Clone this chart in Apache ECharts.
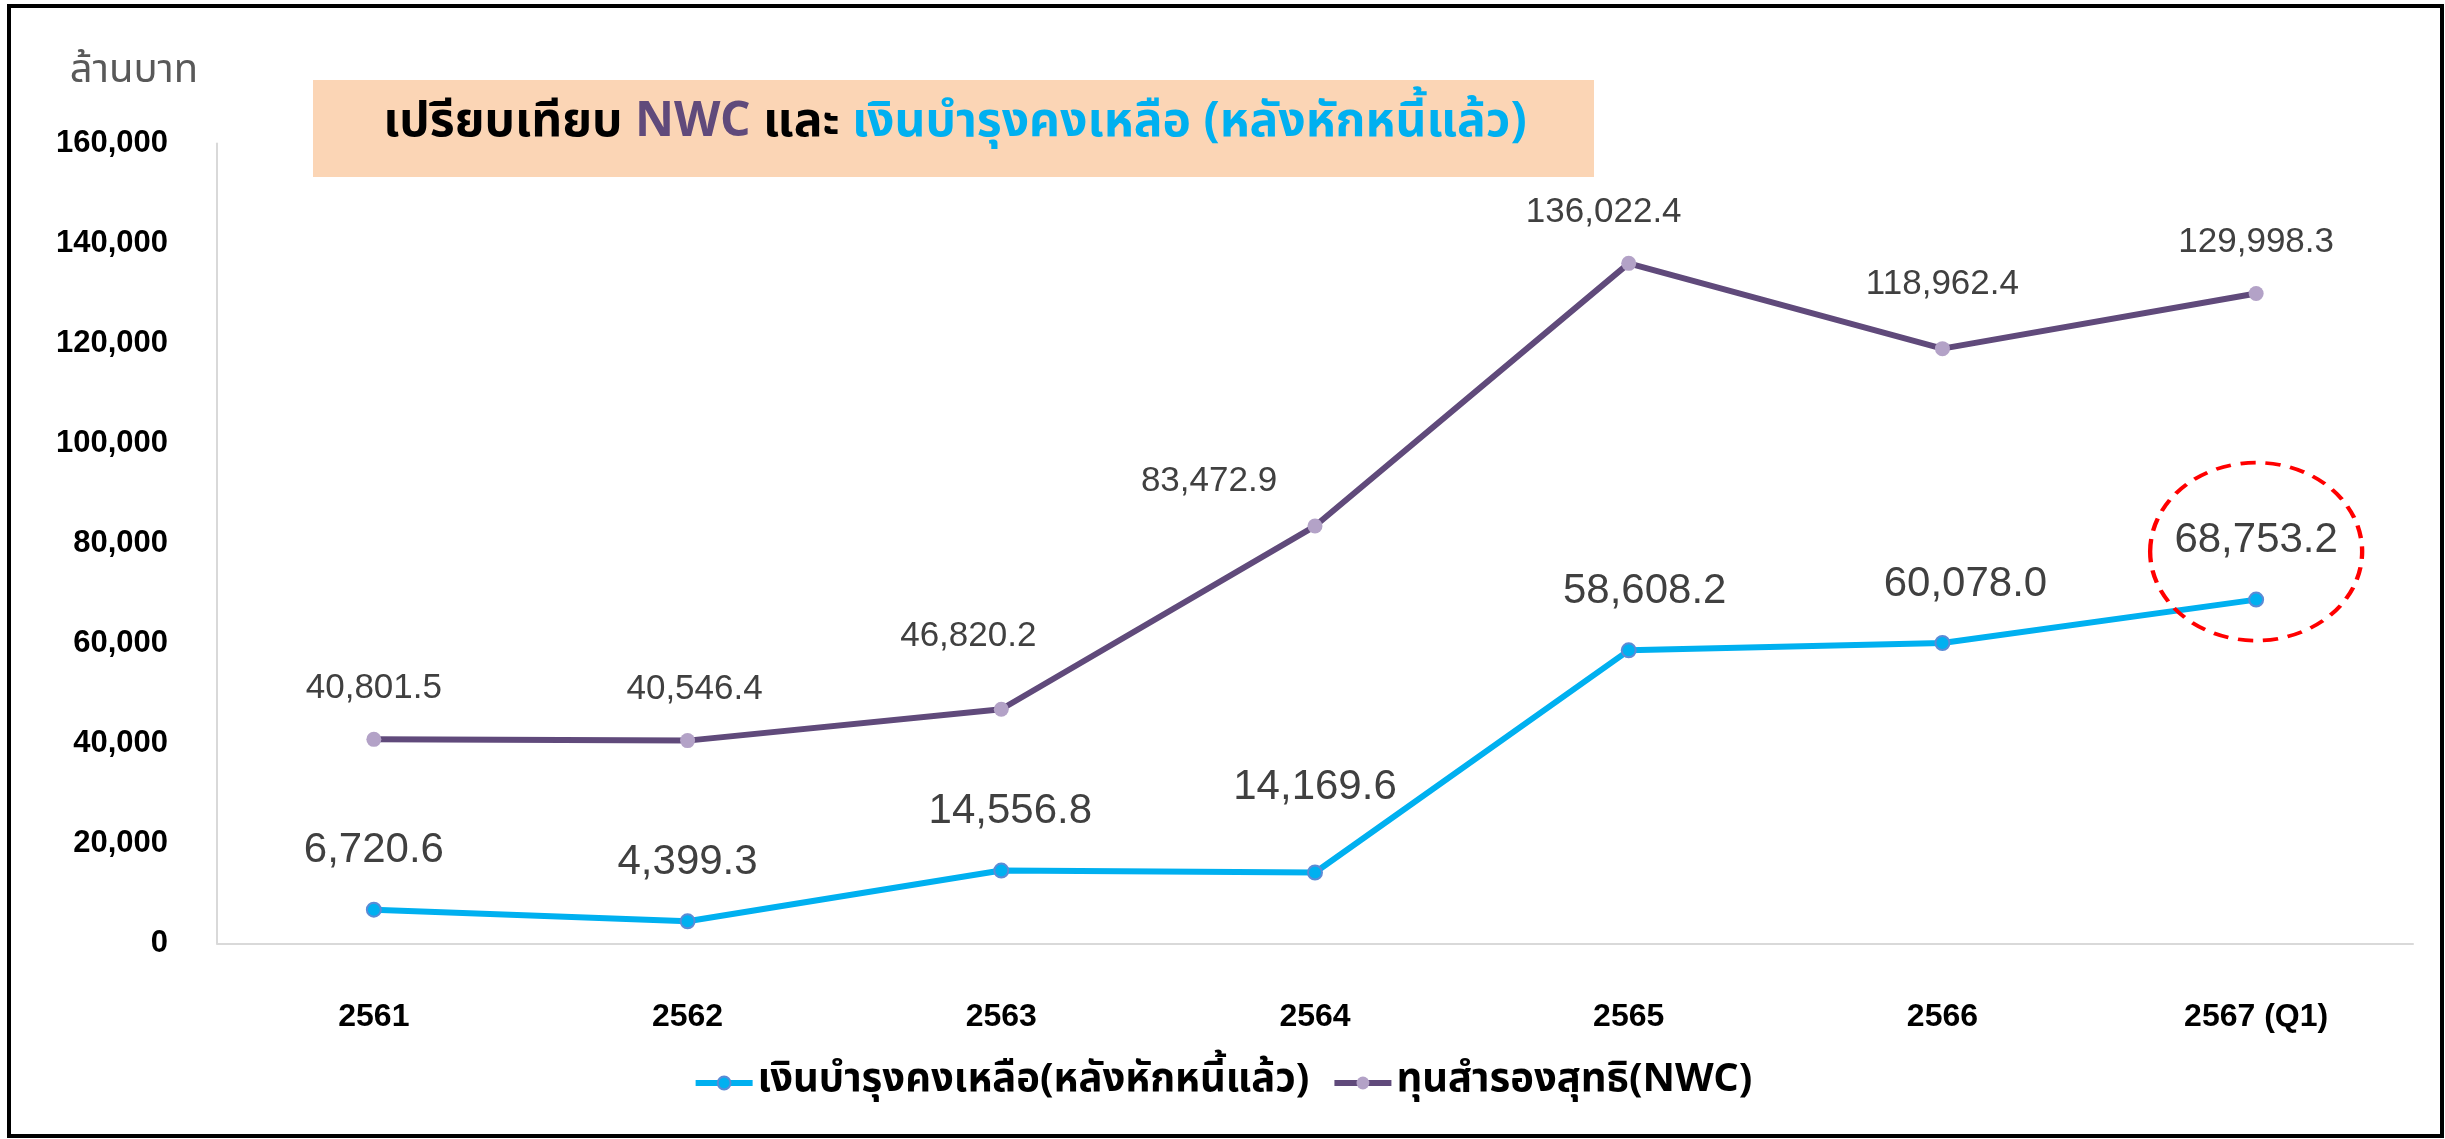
<!DOCTYPE html>
<html>
<head>
<meta charset="utf-8">
<title>NWC vs เงินบำรุงคงเหลือ</title>
<script src="https://cdn.jsdelivr.net/npm/echarts@6/dist/echarts.min.js"></script>
<style>
  html, body { margin: 0; padding: 0; background: #fff; }
  #chart { width: 2445px; height: 1139px; }
</style>
</head>
<body>
<div id="chart"></div>
<script>
  // ข้อมูล (ล้านบาท)
  const categories = ['2561', '2562', '2563', '2564', '2565', '2566', '2567 (Q1)']
  const cashBalance = [6720.6, 4399.3, 14556.8, 14169.6, 58608.2, 60078.0, 68753.2]
  const nwcValues = [40801.5, 40546.4, 46820.2, 83472.9, 136022.4, 118962.4, 129998.3]
  const yMin = 0
  const yMax = 160000
  const yStep = 20000
  const highlightIndex = 6 // จุดที่วงไว้

  // ขยับป้ายตัวเลขเล็กน้อยให้เหมือนต้นฉบับ
  const cashLabelNudge = [[0, 0], [0, 0], [9, 0], [0, -26], [16, 0], [23, 0], [0, 0]]
  const nwcLabelNudge = [[0, 0], [7, 0], [-33, -22], [-106, 6], [-25, 0], [0, -13], [0, 0]]

  const thaiFont = '"Noto Sans Thai", "Noto Sans Thai UI", Loma, Garuda, "Noto Sans", sans-serif'
  const numFont = '"Liberation Sans", Arial, sans-serif'

  const fmt1 = v => v.toLocaleString('en-US', { minimumFractionDigits: 1, maximumFractionDigits: 1 })

  const myChart = echarts.init(document.getElementById('chart'))

  myChart.setOption({
    animation: false,
    backgroundColor: '#ffffff',
    grid: { left: 217, right: 32, top: 143.5, bottom: 195.7 },
    legend: {
      left: 'center',
      top: 1058,
      itemWidth: 57,
      itemHeight: 16,
      itemGap: 22,
      lineStyle: { width: 6 },
      textStyle: { fontFamily: thaiFont, fontSize: 40, fontWeight: 'bold', color: '#000' },
      data: ['เงินบำรุงคงเหลือ(หลังหักหนี้แล้ว)', 'ทุนสำรองสุทธิ(NWC)']
    },
    xAxis: {
      type: 'category',
      data: categories,
      boundaryGap: true,
      axisLine: { lineStyle: { color: '#d9d9d9', width: 2 } },
      axisTick: { show: false },
      axisLabel: { margin: 58, fontFamily: numFont, fontWeight: 'bold', fontSize: 32, color: '#000' },
      splitLine: { show: false }
    },
    yAxis: {
      type: 'value',
      min: yMin,
      max: yMax,
      interval: yStep,
      name: 'ล้านบาท',
      nameLocation: 'end',
      nameGap: 50,
      nameTextStyle: { fontFamily: thaiFont, fontSize: 40, color: '#595959', align: 'center', padding: [0, 166, 0, 0] },
      axisLine: { show: true, lineStyle: { color: '#d9d9d9', width: 2 } },
      axisTick: { show: false },
      splitLine: { show: false },
      axisLabel: {
        margin: 49,
        fontFamily: numFont,
        fontWeight: 'bold',
        fontSize: 31,
        color: '#000',
        formatter: v => v.toLocaleString('en-US')
      }
    },
    graphic: [
      { // กรอบรอบภาพ
        type: 'rect',
        z: 100,
        shape: { x: 9, y: 6, width: 2433, height: 1130 },
        style: { fill: 'none', stroke: '#000', lineWidth: 4 }
      },
      { // กล่องหัวเรื่อง
        type: 'rect',
        shape: { x: 313, y: 80, width: 1281, height: 97 },
        style: { fill: '#fbd5b5' }
      },
      {
        type: 'text',
        x: 955,
        y: 126,
        style: {
          text: '{a|เปรียบเทียบ }{b|NWC}{a| และ }{c|เงินบำรุงคงเหลือ (หลังหักหนี้แล้ว)}',
          align: 'center',
          verticalAlign: 'middle',
          rich: {
            a: { fontFamily: thaiFont, fontWeight: 'bold', fontSize: 48, fill: '#000', color: '#000' },
            b: { fontFamily: thaiFont, fontWeight: 'bold', fontSize: 48, fill: '#604a7b', color: '#604a7b' },
            c: { fontFamily: thaiFont, fontWeight: 'bold', fontSize: 48, fill: '#00b0f0', color: '#00b0f0' }
          }
        }
      }
    ],
    series: [
      {
        name: 'เงินบำรุงคงเหลือ(หลังหักหนี้แล้ว)',
        type: 'line',
        data: cashBalance.map((v, i) => ({ value: v, label: { offset: cashLabelNudge[i] } })),
        symbol: 'circle',
        symbolSize: 14,
        lineStyle: { color: '#00b0f0', width: 6 },
        itemStyle: { color: '#00b0f0', borderColor: '#5b8bd6', borderWidth: 2 },
        label: {
          show: true,
          position: 'top',
          distance: 30,
          fontFamily: numFont,
          fontSize: 42,
          color: '#404040',
          formatter: p => fmt1(p.value)
        },
        markPoint: {
          silent: true,
          symbol: 'path://M0,50 A50,50 0 1,1 100,50 A50,50 0 1,1 0,50 Z',
          symbolSize: [212, 178],
          symbolOffset: [0, -48],
          itemStyle: { color: 'rgba(0,0,0,0)', borderColor: '#ff0000', borderWidth: 4, borderType: [14, 9] },
          label: { show: false },
          data: [{ coord: [categories[highlightIndex], cashBalance[highlightIndex]] }]
        }
      },
      {
        name: 'ทุนสำรองสุทธิ(NWC)',
        type: 'line',
        data: nwcValues.map((v, i) => ({ value: v, label: { offset: nwcLabelNudge[i] } })),
        symbol: 'circle',
        symbolSize: 15,
        lineStyle: { color: '#604a7b', width: 6 },
        itemStyle: { color: '#b3a2c7' },
        label: {
          show: true,
          position: 'top',
          distance: 26,
          fontFamily: numFont,
          fontSize: 35,
          color: '#404040',
          formatter: p => fmt1(p.value)
        }
      }
    ]
  })
</script>
</body>
</html>
